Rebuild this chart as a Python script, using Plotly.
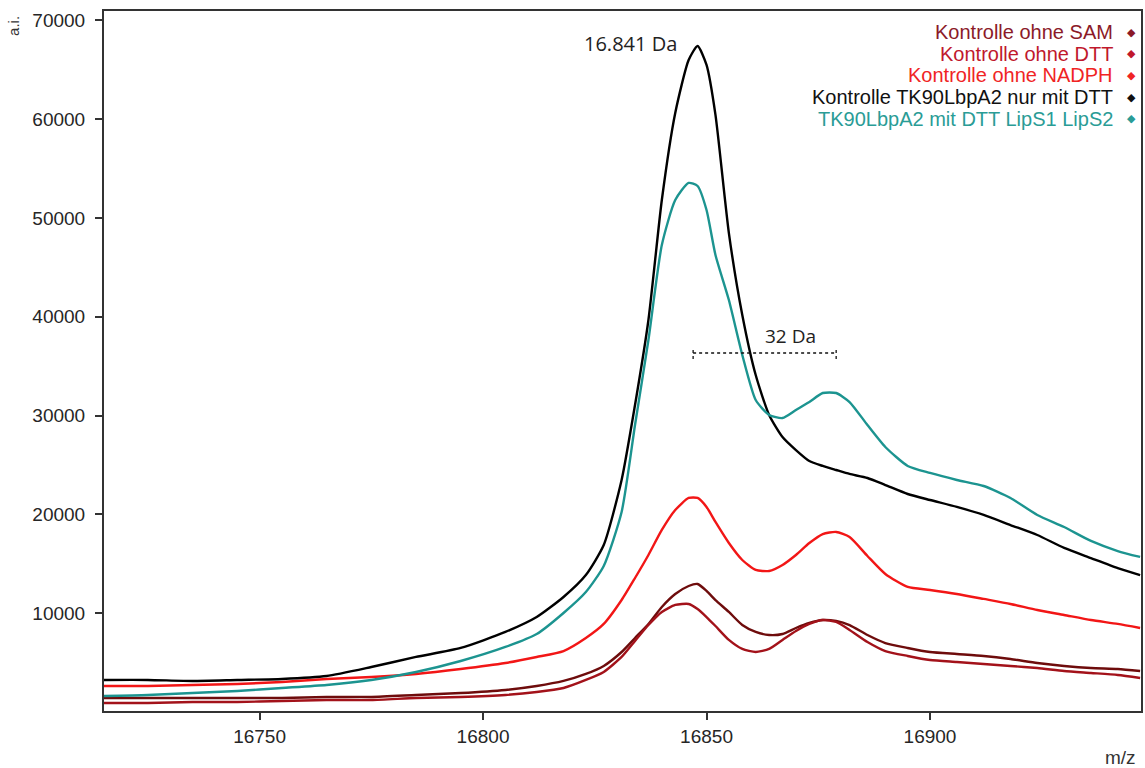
import plotly.graph_objects as go

# m/z sampling grid shared by all spectra
mz = [16715, 16725, 16735, 16745, 16755, 16765, 16775, 16785, 16795, 16805,
      16812, 16818, 16823, 16827, 16831, 16834, 16837, 16840, 16843, 16846,
      16848, 16850, 16852, 16855, 16858, 16861, 16864, 16867, 16870, 16873,
      16876, 16879, 16882, 16886, 16890, 16895, 16900, 16906, 16912, 16918,
      16924, 16930, 16936, 16942, 16947]

# intensities (a.i.)
ohne_sam = [1420, 1420, 1420, 1420, 1420, 1520, 1520, 1720, 1920, 2230,
            2630, 3140, 3850, 4660, 6070, 7490, 8910, 10630, 11940, 12750,
            12950, 12250, 11330, 10120, 8800, 8100, 7790, 7890, 8500, 9010,
            9310, 9210, 8800, 7790, 6980, 6480, 6070, 5870, 5670, 5360,
            4960, 4660, 4450, 4350, 4150]

ohne_dtt = [910, 910, 1010, 1010, 1110, 1210, 1210, 1420, 1520, 1720,
            2020, 2430, 3240, 4050, 5570, 7190, 8800, 10120, 10830, 10930,
            10420, 9610, 8700, 7290, 6380, 6070, 6380, 7290, 8200, 8910,
            9310, 9110, 8300, 7080, 6170, 5670, 5260, 5060, 4860, 4660,
            4450, 4150, 3950, 3740, 3440]

ohne_nadph = [2630, 2630, 2730, 2830, 3040, 3340, 3540, 3850, 4350, 4960,
              5570, 6170, 7490, 8910, 11330, 13560, 15890, 18420, 20440, 21660,
              21660, 20750, 19230, 17100, 15380, 14370, 14270, 14880, 15890, 17100,
              18010, 18220, 17710, 15790, 13970, 12650, 12350, 11940, 11440, 10930,
              10320, 9820, 9310, 8910, 8500]

nur_dtt = [3240, 3240, 3140, 3240, 3340, 3640, 4550, 5570, 6480, 8100,
           9610, 11640, 13860, 16900, 23480, 31070, 39670, 51810, 60620, 65980,
           67400, 65480, 60420, 48470, 40180, 34100, 30060, 27830, 26510, 25400,
           24900, 24490, 24090, 23680, 22970, 22060, 21450, 20750, 19940, 18920,
           17910, 16600, 15580, 14570, 13860]

lips = [1620, 1720, 1920, 2130, 2430, 2730, 3240, 4050, 5160, 6580,
        7890, 10020, 12140, 14780, 20240, 29040, 37650, 47260, 51810, 53540,
        53230, 50800, 46250, 41690, 36130, 31570, 30060, 29750, 30560, 31370,
        32280, 32280, 31370, 29040, 26820, 24900, 24190, 23480, 22870, 21660,
        19940, 18720, 17310, 16290, 15690]

series_names = ["Kontrolle ohne SAM", "Kontrolle ohne DTT", "Kontrolle ohne NADPH",
                "Kontrolle TK90LbpA2 nur mit DTT", "TK90LbpA2 mit DTT LipS1 LipS2"]
series_values = [ohne_sam, ohne_dtt, ohne_nadph, nur_dtt, lips]
line_colors = ["#6e0c0c", "#a3121a", "#f21616", "#000000", "#1c9490"]
label_colors = ["#8b1a28", "#c0182c", "#f02424", "#111111", "#2a9c96"]

x_ticks = [16750, 16800, 16850, 16900]
y_ticks = [10000, 20000, 30000, 40000, 50000, 60000, 70000]

peak_label = "16.841 Da"
shift_label = "32 Da"
peak_mz = 16847
shift_da = 32

fig = go.Figure()
for name, vals, col in zip(series_names, series_values, line_colors):
    fig.add_trace(go.Scatter(x=mz, y=vals, mode="lines", name=name,
                             line=dict(color=col, width=2.4, shape="spline", smoothing=0.6),
                             showlegend=False))

axis_font = dict(family="Liberation Sans, Arial", size=19, color="#262626")

fig.update_layout(
    width=1145, height=768,
    margin=dict(l=104, r=2, t=11, b=57),
    paper_bgcolor="white", plot_bgcolor="white",
    xaxis=dict(range=[16715.2, 16947.2], tickvals=x_ticks,
               ticktext=[str(v) for v in x_ticks], ticks="outside", ticklen=7,
               tickwidth=2, tickcolor="#333", showline=True, linecolor="#333", linewidth=2,
               mirror=True, showgrid=False, zeroline=False, tickfont=axis_font),
    yaxis=dict(range=[100, 70940], tickvals=y_ticks,
               ticktext=[str(v) for v in y_ticks], ticks="outside", ticklen=7,
               tickwidth=1.5, tickcolor="#333", showline=True, linecolor="#333", linewidth=2,
               mirror=True, showgrid=False, zeroline=False, tickfont=axis_font,
               ticklabelstandoff=6),
)

# legend drawn as right-aligned labels with diamond markers
row_y = [0.970, 0.939, 0.908, 0.877, 0.846]
for name, col, ry in zip(series_names, label_colors, row_y):
    fig.add_annotation(xref="paper", yref="paper", x=0.975, y=ry, text=name,
                       showarrow=False, xanchor="right", yanchor="middle",
                       font=dict(family="Liberation Sans, Arial", size=20, color=col))
    fig.add_annotation(xref="paper", yref="paper", x=0.991, y=ry, text="◆",
                       showarrow=False, xanchor="center", yanchor="middle",
                       font=dict(family="DejaVu Sans", size=11, color=col))

# axis titles
fig.add_annotation(xref="paper", yref="paper", x=-0.0866, y=0.979, text="a.i.",
                   textangle=-90, showarrow=False, xanchor="center", yanchor="middle",
                   font=dict(family="Liberation Sans, Arial", size=15, color="#333"))
fig.add_annotation(xref="paper", yref="paper", x=0.997, y=-0.066, text="m/z",
                   showarrow=False, xanchor="right", yanchor="middle",
                   font=dict(family="Liberation Sans, Arial", size=19, color="#333"))

# peak mass label
fig.add_annotation(x=16833, y=67700, text=peak_label, showarrow=False,
                   xanchor="center", yanchor="middle",
                   font=dict(family="Open Sans", size=20, color="#222"))

# 32 Da shift bracket
y_br = 36330
cap = 600
fig.add_shape(type="line", x0=peak_mz, x1=peak_mz + shift_da, y0=y_br, y1=y_br,
              line=dict(color="#111", width=1.3, dash="dot"))
for xc in (peak_mz, peak_mz + shift_da):
    fig.add_shape(type="line", x0=xc, x1=xc, y0=y_br - cap, y1=y_br + cap,
                  line=dict(color="#111", width=1.3, dash="dot"))
fig.add_annotation(x=peak_mz + shift_da * 0.68, y=38050, text=shift_label, showarrow=False,
                   xanchor="center", yanchor="middle",
                   font=dict(family="Open Sans", size=19, color="#222"))

fig.write_html("out.html")
